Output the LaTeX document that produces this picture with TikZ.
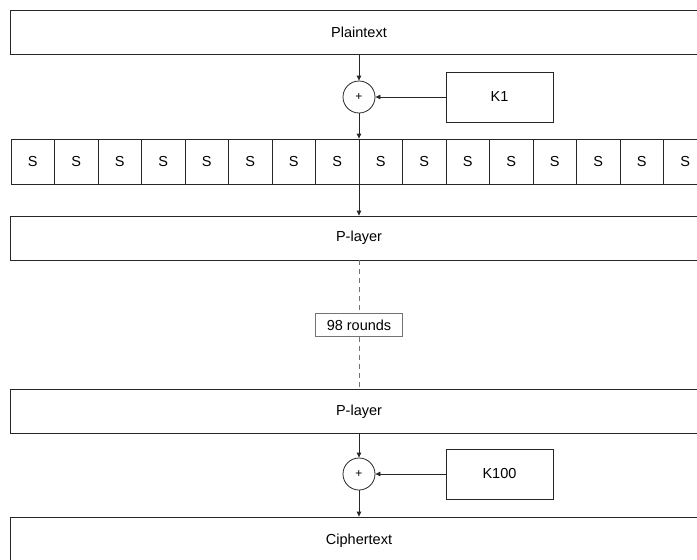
\documentclass[tikz,border=0pt]{standalone}
\usepackage{fontspec}
\setmainfont{Liberation Sans}
\usetikzlibrary{arrows.meta,positioning}
\begin{document}
\begin{tikzpicture}[x=1pt,y=-1pt,
  font=\fontsize{14.5}{17}\selectfont,
  line width=0.8pt,
  wide/.style={draw=black!85,minimum width=698pt,minimum height=44pt,inner sep=0pt},
  sbox/.style={draw=black!85,minimum width=43.5pt,minimum height=45pt,inner sep=0pt},
  xorc/.style={circle,draw=black!85,minimum size=32pt,inner sep=0pt,font=\fontsize{12}{14}\selectfont},
  keybox/.style={draw=black!85,minimum width=107pt,minimum height=50pt,inner sep=0pt},
  roundlbl/.style={draw=black!55,fill=white,minimum width=87pt,minimum height=23pt,inner sep=0pt},
  flow/.style={draw=black!85,-{Triangle[length=5pt,width=4.5pt]}},
  skip/.style={draw=black!55,dashed,dash pattern=on 5pt off 4pt}]
\useasboundingbox (0,0) rectangle (697,560);
\clip (0,0) rectangle (697,560);

% input block and first key addition
\node[wide] (plain) at (359,32) {Plaintext};
\node[xorc] (x1) at (359,97) {+};
\node[keybox] (k1) at (499.5,97) {K1};

% substitution layer: sixteen S-boxes
\foreach \i in {1,...,16}{
  \node[sbox] (s\i) at ({11+43.5*(\i-0.5)},161.5) {S};
}

% permutation layer
\node[wide] (p1) at (359,238) {P-layer};

% elided middle rounds
\node[roundlbl] (mid) at (359,325) {98 rounds};

% last permutation layer and final key addition
\node[wide] (p2) at (359,411.5) {P-layer};
\node[xorc] (x2) at (359,474) {+};
\node[keybox] (k2) at (499.5,474) {K100};
\node[wide,minimum height=48pt] (cipher) at (359,541) {Ciphertext};

% connectors (the S-layer link runs along the s8/s9 border)
\draw[flow] (plain.south) -- (x1.north);
\draw[flow] (k1.west) -- (x1.east);
\draw[flow] (x1.south) -- (x1.south |- s8.north);
\draw[flow] (x1.south |- s8.south) -- (p1.north);
\draw[skip] (p1.south) -- (mid.north);
\draw[skip] (mid.south) -- (p2.north);
\draw[flow] (p2.south) -- (x2.north);
\draw[flow] (k2.west) -- (x2.east);
\draw[flow] (x2.south) -- (cipher.north);
\end{tikzpicture}
\end{document}
